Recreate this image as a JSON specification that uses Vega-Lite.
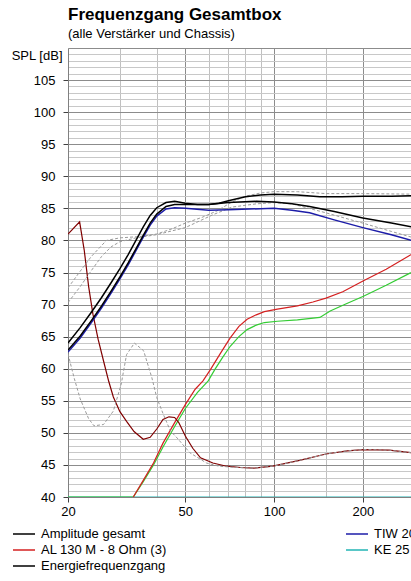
{
  "$schema": "https://vega.github.io/schema/vega-lite/v6.json",
  "width": 355,
  "height": 449,
  "padding": {"left": 10, "top": 6, "right": 0, "bottom": 0},
  "background": "white",
  "config": {"view": {"stroke": null}},
  "title": {
    "text": "Frequenzgang Gesamtbox",
    "subtitle": "(alle Verstärker und Chassis)",
    "anchor": "start",
    "frame": "group",
    "font": "Liberation Sans",
    "fontSize": 17,
    "fontWeight": "bold",
    "color": "#000000",
    "subtitleFont": "Liberation Sans",
    "subtitleFontSize": 13,
    "subtitleColor": "#000000",
    "subtitlePadding": 4,
    "offset": 0
  },
  "datasets": {
    "d": [
      {"s": "KE 25 SC - 8 Ohm (4)", "f": 20, "v": 40},
      {"s": "KE 25 SC - 8 Ohm (4)", "f": 50, "v": 40},
      {"s": "KE 25 SC - 8 Ohm (4)", "f": 100, "v": 40},
      {"s": "KE 25 SC - 8 Ohm (4)", "f": 200, "v": 40},
      {"s": "KE 25 SC - 8 Ohm (4)", "f": 320, "v": 40},

      {"s": "AL 130 M - 8 Ohm (2)", "f": 20, "v": 40},
      {"s": "AL 130 M - 8 Ohm (2)", "f": 33.3, "v": 40},
      {"s": "AL 130 M - 8 Ohm (2)", "f": 36, "v": 42.4},
      {"s": "AL 130 M - 8 Ohm (2)", "f": 39, "v": 45.0},
      {"s": "AL 130 M - 8 Ohm (2)", "f": 42, "v": 47.8},
      {"s": "AL 130 M - 8 Ohm (2)", "f": 46, "v": 51.0},
      {"s": "AL 130 M - 8 Ohm (2)", "f": 50, "v": 53.8},
      {"s": "AL 130 M - 8 Ohm (2)", "f": 55, "v": 56.3},
      {"s": "AL 130 M - 8 Ohm (2)", "f": 59.8, "v": 58.1},
      {"s": "AL 130 M - 8 Ohm (2)", "f": 63, "v": 59.9},
      {"s": "AL 130 M - 8 Ohm (2)", "f": 67, "v": 61.8},
      {"s": "AL 130 M - 8 Ohm (2)", "f": 71, "v": 63.5},
      {"s": "AL 130 M - 8 Ohm (2)", "f": 76, "v": 65.0},
      {"s": "AL 130 M - 8 Ohm (2)", "f": 81, "v": 66.1},
      {"s": "AL 130 M - 8 Ohm (2)", "f": 87, "v": 66.8},
      {"s": "AL 130 M - 8 Ohm (2)", "f": 92.7, "v": 67.2},
      {"s": "AL 130 M - 8 Ohm (2)", "f": 102.6, "v": 67.4},
      {"s": "AL 130 M - 8 Ohm (2)", "f": 120, "v": 67.6},
      {"s": "AL 130 M - 8 Ohm (2)", "f": 143, "v": 68.0},
      {"s": "AL 130 M - 8 Ohm (2)", "f": 155, "v": 69.0},
      {"s": "AL 130 M - 8 Ohm (2)", "f": 175, "v": 70.1},
      {"s": "AL 130 M - 8 Ohm (2)", "f": 201, "v": 71.3},
      {"s": "AL 130 M - 8 Ohm (2)", "f": 240, "v": 73.0},
      {"s": "AL 130 M - 8 Ohm (2)", "f": 289, "v": 74.9},
      {"s": "AL 130 M - 8 Ohm (2)", "f": 320, "v": 75.8},

      {"s": "AL 130 M - 8 Ohm (3)", "f": 33.3, "v": 40},
      {"s": "AL 130 M - 8 Ohm (3)", "f": 36, "v": 42.6},
      {"s": "AL 130 M - 8 Ohm (3)", "f": 39, "v": 45.3},
      {"s": "AL 130 M - 8 Ohm (3)", "f": 42, "v": 48.4},
      {"s": "AL 130 M - 8 Ohm (3)", "f": 46, "v": 51.6},
      {"s": "AL 130 M - 8 Ohm (3)", "f": 50, "v": 54.4},
      {"s": "AL 130 M - 8 Ohm (3)", "f": 54, "v": 56.8},
      {"s": "AL 130 M - 8 Ohm (3)", "f": 57.4, "v": 58.1},
      {"s": "AL 130 M - 8 Ohm (3)", "f": 60.9, "v": 59.9},
      {"s": "AL 130 M - 8 Ohm (3)", "f": 66, "v": 62.5},
      {"s": "AL 130 M - 8 Ohm (3)", "f": 71, "v": 64.8},
      {"s": "AL 130 M - 8 Ohm (3)", "f": 76, "v": 66.6},
      {"s": "AL 130 M - 8 Ohm (3)", "f": 81, "v": 67.7},
      {"s": "AL 130 M - 8 Ohm (3)", "f": 87, "v": 68.4},
      {"s": "AL 130 M - 8 Ohm (3)", "f": 92.7, "v": 68.9},
      {"s": "AL 130 M - 8 Ohm (3)", "f": 102.6, "v": 69.3},
      {"s": "AL 130 M - 8 Ohm (3)", "f": 120, "v": 69.8},
      {"s": "AL 130 M - 8 Ohm (3)", "f": 135.5, "v": 70.4},
      {"s": "AL 130 M - 8 Ohm (3)", "f": 150, "v": 71.0},
      {"s": "AL 130 M - 8 Ohm (3)", "f": 171, "v": 72.0},
      {"s": "AL 130 M - 8 Ohm (3)", "f": 201, "v": 73.7},
      {"s": "AL 130 M - 8 Ohm (3)", "f": 240, "v": 75.5},
      {"s": "AL 130 M - 8 Ohm (3)", "f": 289, "v": 77.7},
      {"s": "AL 130 M - 8 Ohm (3)", "f": 320, "v": 78.6},

      {"s": "Impedanz", "f": 20, "v": 81.0},
      {"s": "Impedanz", "f": 21.9, "v": 82.9},
      {"s": "Impedanz", "f": 22.7, "v": 78.5},
      {"s": "Impedanz", "f": 23.5, "v": 72.8},
      {"s": "Impedanz", "f": 24.3, "v": 68.5},
      {"s": "Impedanz", "f": 25.3, "v": 64.6},
      {"s": "Impedanz", "f": 26.4, "v": 61.2},
      {"s": "Impedanz", "f": 27.5, "v": 58.0},
      {"s": "Impedanz", "f": 28.5, "v": 55.6},
      {"s": "Impedanz", "f": 30, "v": 53.3},
      {"s": "Impedanz", "f": 31.6, "v": 51.8},
      {"s": "Impedanz", "f": 33.5, "v": 50.2},
      {"s": "Impedanz", "f": 36, "v": 49.0},
      {"s": "Impedanz", "f": 38, "v": 49.3},
      {"s": "Impedanz", "f": 40, "v": 50.6},
      {"s": "Impedanz", "f": 42, "v": 52.1},
      {"s": "Impedanz", "f": 44, "v": 52.5},
      {"s": "Impedanz", "f": 46, "v": 52.4},
      {"s": "Impedanz", "f": 47.5, "v": 51.6},
      {"s": "Impedanz", "f": 50, "v": 49.5},
      {"s": "Impedanz", "f": 53, "v": 47.6},
      {"s": "Impedanz", "f": 56.3, "v": 46.1},
      {"s": "Impedanz", "f": 62, "v": 45.3},
      {"s": "Impedanz", "f": 69, "v": 44.8},
      {"s": "Impedanz", "f": 77, "v": 44.6},
      {"s": "Impedanz", "f": 85, "v": 44.5},
      {"s": "Impedanz", "f": 99, "v": 44.8},
      {"s": "Impedanz", "f": 122, "v": 45.7},
      {"s": "Impedanz", "f": 150, "v": 46.7},
      {"s": "Impedanz", "f": 177, "v": 47.2},
      {"s": "Impedanz", "f": 201, "v": 47.4},
      {"s": "Impedanz", "f": 246, "v": 47.3},
      {"s": "Impedanz", "f": 292, "v": 46.9},
      {"s": "Impedanz", "f": 320, "v": 46.6},

      {"s": "Ref 1", "f": 20, "v": 72.6},
      {"s": "Ref 1", "f": 22, "v": 75.2},
      {"s": "Ref 1", "f": 24, "v": 77.5},
      {"s": "Ref 1", "f": 27, "v": 80.0},
      {"s": "Ref 1", "f": 30, "v": 80.4},
      {"s": "Ref 1", "f": 35, "v": 80.6},
      {"s": "Ref 1", "f": 40, "v": 81.0},
      {"s": "Ref 1", "f": 45, "v": 81.8},
      {"s": "Ref 1", "f": 50, "v": 82.7},
      {"s": "Ref 1", "f": 57, "v": 83.6},
      {"s": "Ref 1", "f": 64, "v": 84.6},
      {"s": "Ref 1", "f": 72, "v": 86.0},
      {"s": "Ref 1", "f": 80, "v": 86.9},
      {"s": "Ref 1", "f": 90, "v": 87.4},
      {"s": "Ref 1", "f": 100, "v": 87.6},
      {"s": "Ref 1", "f": 120, "v": 87.6},
      {"s": "Ref 1", "f": 150, "v": 87.3},
      {"s": "Ref 1", "f": 200, "v": 87.3},
      {"s": "Ref 1", "f": 320, "v": 87.2},

      {"s": "Ref 2", "f": 20, "v": 70.3},
      {"s": "Ref 2", "f": 22, "v": 72.8},
      {"s": "Ref 2", "f": 24, "v": 75.3},
      {"s": "Ref 2", "f": 26, "v": 77.5},
      {"s": "Ref 2", "f": 28, "v": 79.0},
      {"s": "Ref 2", "f": 30, "v": 79.8},
      {"s": "Ref 2", "f": 34, "v": 80.4},
      {"s": "Ref 2", "f": 40, "v": 80.9},
      {"s": "Ref 2", "f": 50, "v": 82.0},
      {"s": "Ref 2", "f": 62, "v": 84.0},
      {"s": "Ref 2", "f": 72, "v": 85.2},
      {"s": "Ref 2", "f": 87, "v": 85.7},
      {"s": "Ref 2", "f": 100, "v": 85.9},
      {"s": "Ref 2", "f": 115, "v": 85.7},
      {"s": "Ref 2", "f": 150, "v": 84.3},
      {"s": "Ref 2", "f": 200, "v": 82.7},
      {"s": "Ref 2", "f": 250, "v": 81.4},
      {"s": "Ref 2", "f": 320, "v": 80.0},

      {"s": "Ref 3", "f": 20, "v": 62.3},
      {"s": "Ref 3", "f": 21, "v": 58.5},
      {"s": "Ref 3", "f": 22, "v": 55.3},
      {"s": "Ref 3", "f": 23.5, "v": 52.2},
      {"s": "Ref 3", "f": 24.5, "v": 51.1},
      {"s": "Ref 3", "f": 26.4, "v": 51.3},
      {"s": "Ref 3", "f": 28.5, "v": 53.4},
      {"s": "Ref 3", "f": 30.3, "v": 57.6},
      {"s": "Ref 3", "f": 31.6, "v": 62.2},
      {"s": "Ref 3", "f": 33.6, "v": 64.0},
      {"s": "Ref 3", "f": 36.1, "v": 62.8},
      {"s": "Ref 3", "f": 38.5, "v": 58.6},
      {"s": "Ref 3", "f": 40, "v": 55.5},
      {"s": "Ref 3", "f": 42.1, "v": 52.9},
      {"s": "Ref 3", "f": 44.5, "v": 50.3},
      {"s": "Ref 3", "f": 46.9, "v": 49.2},
      {"s": "Ref 3", "f": 51.8, "v": 46.9},
      {"s": "Ref 3", "f": 59, "v": 45.3},
      {"s": "Ref 3", "f": 65, "v": 44.8},
      {"s": "Ref 3", "f": 75, "v": 44.6},
      {"s": "Ref 3", "f": 85, "v": 44.5},
      {"s": "Ref 3", "f": 99, "v": 44.8},
      {"s": "Ref 3", "f": 122, "v": 45.7},
      {"s": "Ref 3", "f": 150, "v": 46.7},
      {"s": "Ref 3", "f": 177, "v": 47.2},
      {"s": "Ref 3", "f": 201, "v": 47.4},
      {"s": "Ref 3", "f": 246, "v": 47.3},
      {"s": "Ref 3", "f": 292, "v": 46.9},
      {"s": "Ref 3", "f": 320, "v": 46.6},

      {"s": "TIW 200 XS - 8 Ohm (1)", "f": 20, "v": 62.6},
      {"s": "TIW 200 XS - 8 Ohm (1)", "f": 22, "v": 64.8},
      {"s": "TIW 200 XS - 8 Ohm (1)", "f": 24, "v": 67.2},
      {"s": "TIW 200 XS - 8 Ohm (1)", "f": 26, "v": 69.5},
      {"s": "TIW 200 XS - 8 Ohm (1)", "f": 28, "v": 71.8},
      {"s": "TIW 200 XS - 8 Ohm (1)", "f": 30, "v": 74.0},
      {"s": "TIW 200 XS - 8 Ohm (1)", "f": 32, "v": 76.2},
      {"s": "TIW 200 XS - 8 Ohm (1)", "f": 34, "v": 78.4},
      {"s": "TIW 200 XS - 8 Ohm (1)", "f": 36, "v": 80.5},
      {"s": "TIW 200 XS - 8 Ohm (1)", "f": 38, "v": 82.4},
      {"s": "TIW 200 XS - 8 Ohm (1)", "f": 40, "v": 83.8},
      {"s": "TIW 200 XS - 8 Ohm (1)", "f": 43, "v": 84.9},
      {"s": "TIW 200 XS - 8 Ohm (1)", "f": 46, "v": 85.1},
      {"s": "TIW 200 XS - 8 Ohm (1)", "f": 50, "v": 85.0},
      {"s": "TIW 200 XS - 8 Ohm (1)", "f": 60, "v": 84.7},
      {"s": "TIW 200 XS - 8 Ohm (1)", "f": 70, "v": 84.8},
      {"s": "TIW 200 XS - 8 Ohm (1)", "f": 100, "v": 85.0},
      {"s": "TIW 200 XS - 8 Ohm (1)", "f": 115, "v": 84.7},
      {"s": "TIW 200 XS - 8 Ohm (1)", "f": 132, "v": 84.3},
      {"s": "TIW 200 XS - 8 Ohm (1)", "f": 160, "v": 83.2},
      {"s": "TIW 200 XS - 8 Ohm (1)", "f": 200, "v": 82.0},
      {"s": "TIW 200 XS - 8 Ohm (1)", "f": 250, "v": 80.9},
      {"s": "TIW 200 XS - 8 Ohm (1)", "f": 320, "v": 79.5},

      {"s": "Amplitude gesamt", "f": 20, "v": 62.9},
      {"s": "Amplitude gesamt", "f": 22, "v": 65.1},
      {"s": "Amplitude gesamt", "f": 24, "v": 67.5},
      {"s": "Amplitude gesamt", "f": 26, "v": 69.8},
      {"s": "Amplitude gesamt", "f": 28, "v": 72.1},
      {"s": "Amplitude gesamt", "f": 30, "v": 74.3},
      {"s": "Amplitude gesamt", "f": 32, "v": 76.5},
      {"s": "Amplitude gesamt", "f": 34, "v": 78.7},
      {"s": "Amplitude gesamt", "f": 36, "v": 80.8},
      {"s": "Amplitude gesamt", "f": 38, "v": 82.7},
      {"s": "Amplitude gesamt", "f": 40, "v": 84.1},
      {"s": "Amplitude gesamt", "f": 43, "v": 85.3},
      {"s": "Amplitude gesamt", "f": 46, "v": 85.6},
      {"s": "Amplitude gesamt", "f": 50, "v": 85.6},
      {"s": "Amplitude gesamt", "f": 60, "v": 85.6},
      {"s": "Amplitude gesamt", "f": 70, "v": 85.9},
      {"s": "Amplitude gesamt", "f": 87, "v": 86.1},
      {"s": "Amplitude gesamt", "f": 100, "v": 86.0},
      {"s": "Amplitude gesamt", "f": 115, "v": 85.7},
      {"s": "Amplitude gesamt", "f": 132, "v": 85.3},
      {"s": "Amplitude gesamt", "f": 160, "v": 84.5},
      {"s": "Amplitude gesamt", "f": 200, "v": 83.5},
      {"s": "Amplitude gesamt", "f": 250, "v": 82.7},
      {"s": "Amplitude gesamt", "f": 320, "v": 81.8},

      {"s": "Energiefrequenzgang", "f": 20, "v": 64.0},
      {"s": "Energiefrequenzgang", "f": 22, "v": 66.4},
      {"s": "Energiefrequenzgang", "f": 24, "v": 68.8},
      {"s": "Energiefrequenzgang", "f": 26, "v": 71.1},
      {"s": "Energiefrequenzgang", "f": 28, "v": 73.4},
      {"s": "Energiefrequenzgang", "f": 30, "v": 75.6},
      {"s": "Energiefrequenzgang", "f": 32, "v": 77.8},
      {"s": "Energiefrequenzgang", "f": 34, "v": 80.0},
      {"s": "Energiefrequenzgang", "f": 36, "v": 82.1},
      {"s": "Energiefrequenzgang", "f": 38, "v": 83.9},
      {"s": "Energiefrequenzgang", "f": 40, "v": 85.1},
      {"s": "Energiefrequenzgang", "f": 43, "v": 85.9},
      {"s": "Energiefrequenzgang", "f": 46, "v": 86.1},
      {"s": "Energiefrequenzgang", "f": 50, "v": 85.8},
      {"s": "Energiefrequenzgang", "f": 55, "v": 85.6},
      {"s": "Energiefrequenzgang", "f": 60, "v": 85.6},
      {"s": "Energiefrequenzgang", "f": 65, "v": 85.8},
      {"s": "Energiefrequenzgang", "f": 70, "v": 86.2},
      {"s": "Energiefrequenzgang", "f": 80, "v": 86.8},
      {"s": "Energiefrequenzgang", "f": 90, "v": 87.1},
      {"s": "Energiefrequenzgang", "f": 100, "v": 87.2},
      {"s": "Energiefrequenzgang", "f": 120, "v": 87.1},
      {"s": "Energiefrequenzgang", "f": 143, "v": 86.8},
      {"s": "Energiefrequenzgang", "f": 170, "v": 86.8},
      {"s": "Energiefrequenzgang", "f": 200, "v": 86.9},
      {"s": "Energiefrequenzgang", "f": 250, "v": 86.9},
      {"s": "Energiefrequenzgang", "f": 320, "v": 87.0}
    ]
  },
  "data": {"name": "d"},
  "encoding": {
    "x": {
      "field": "f",
      "type": "quantitative",
      "scale": {"type": "log", "domain": [20, 320], "nice": false},
      "axis": {
        "values": [20, 30, 40, 50, 60, 70, 80, 90, 100, 150, 200, 300],
        "format": "d",
        "labelExpr": "indexof([20, 50, 100, 200], datum.value) >= 0 ? datum.label : ''",
        "title": null,
        "grid": true,
        "gridColor": {"condition": {"test": "indexof([50, 100, 200], datum.value) >= 0", "value": "#8c8c8c"}, "value": "#c0c0c0"},
        "tickOpacity": {"condition": {"test": "indexof([20, 50, 100, 200], datum.value) >= 0", "value": 1}, "value": 0},
        "tickColor": "#404040",
        "tickSize": 5,
        "labelPadding": 3,
        "labelFlush": false,
        "labelOverlap": false,
        "labelFont": "Liberation Sans",
        "labelFontSize": 13,
        "labelColor": "#000000",
        "domainColor": "#808080"
      }
    },
    "y": {
      "field": "v",
      "type": "quantitative",
      "scale": {"domain": [40, 110], "nice": false, "zero": false},
      "axis": {
        "values": [40,41,42,43,44,45,46,47,48,49,50,51,52,53,54,55,56,57,58,59,60,61,62,63,64,65,66,67,68,69,70,71,72,73,74,75,76,77,78,79,80,81,82,83,84,85,86,87,88,89,90,91,92,93,94,95,96,97,98,99,100,101,102,103,104,105,106,107,108,109,110],
        "labelExpr": "datum.value % 5 == 0 && datum.value < 110 ? datum.label : ''",
        "title": "SPL [dB]",
        "titleAngle": 0,
        "titleAlign": "right",
        "titleBaseline": "top",
        "titleX": -6,
        "titleY": 1,
        "titleFont": "Liberation Sans",
        "titleFontSize": 13,
        "titleFontWeight": "normal",
        "titleColor": "#000000",
        "grid": true,
        "gridColor": {"condition": {"test": "datum.value % 5 == 0", "value": "#8c8c8c"}, "value": "#c8c8c8"},
        "tickOpacity": {"condition": {"test": "datum.value % 5 == 0 && datum.value < 110", "value": 1}, "value": 0},
        "tickColor": "#404040",
        "tickSize": 5,
        "labelPadding": 8,
        "labelFlush": false,
        "labelOverlap": false,
        "labelFont": "Liberation Sans",
        "labelFontSize": 13,
        "labelColor": "#000000",
        "domainColor": "#808080"
      }
    },
    "color": {
      "field": "s",
      "type": "nominal",
      "scale": {
        "domain": ["KE 25 SC - 8 Ohm (4)", "AL 130 M - 8 Ohm (2)", "AL 130 M - 8 Ohm (3)", "Impedanz", "TIW 200 XS - 8 Ohm (1)", "Amplitude gesamt", "Energiefrequenzgang"],
        "range": ["#22b4b4", "#33cc33", "#d42020", "#800000", "#1c1ca8", "#000000", "#000000"]
      },
      "legend": {
        "values": ["Amplitude gesamt", "AL 130 M - 8 Ohm (3)", "Energiefrequenzgang", "TIW 200 XS - 8 Ohm (1)", "KE 25 SC - 8 Ohm (4)"],
        "orient": "none",
        "legendX": -56,
        "legendY": 478,
        "columns": 2,
        "columnPadding": 178,
        "rowPadding": 0,
        "clipHeight": 16,
        "title": null,
        "symbolType": "stroke",
        "symbolSize": 484,
        "symbolStrokeWidth": 1.3,
        "labelFont": "Liberation Sans",
        "labelFontSize": 13,
        "labelColor": "#000000",
        "labelOffset": 5,
        "labelLimit": 400
      }
    }
  },
  "layer": [
    {
      "transform": [{"filter": {"field": "s", "oneOf": ["KE 25 SC - 8 Ohm (4)", "AL 130 M - 8 Ohm (2)", "AL 130 M - 8 Ohm (3)", "Impedanz"]}}],
      "mark": {"type": "line", "strokeWidth": 1.2, "clip": true}
    },
    {
      "transform": [{"filter": {"field": "s", "oneOf": ["Ref 1", "Ref 2", "Ref 3"]}}],
      "mark": {"type": "line", "strokeWidth": 1, "strokeDash": [3, 2], "clip": true},
      "encoding": {"color": {"value": "#9a9a9a"}, "detail": {"field": "s"}}
    },
    {
      "transform": [{"filter": {"field": "s", "oneOf": ["TIW 200 XS - 8 Ohm (1)", "Amplitude gesamt", "Energiefrequenzgang"]}}],
      "mark": {"type": "line", "strokeWidth": 1.5, "clip": true}
    }
  ]
}
